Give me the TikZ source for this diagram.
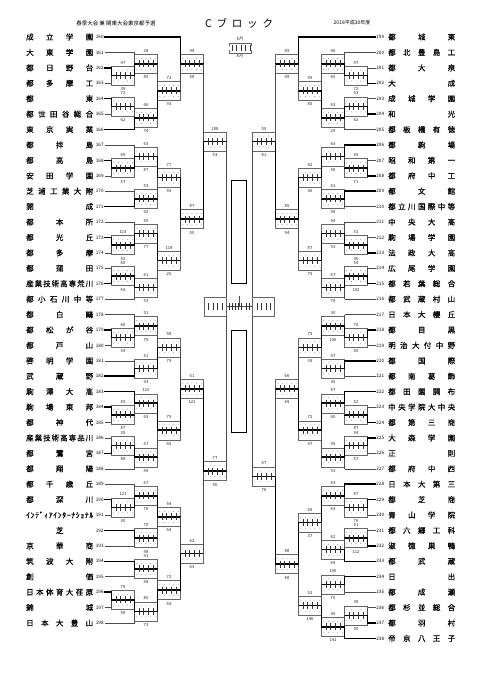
\documentclass[tikz,border=0pt]{standalone}
\usepackage{fontspec}
\setmainfont{Noto Sans CJK JP}
\newfontfamily\namefont{Noto Sans CJK JP}[FakeBold=0.6]
\usetikzlibrary{calc}
\def\spread#1{\spreadA#1\relax}
\def\spreadA#1{\ifx\relax#1\else #1\expandafter\spreadB\fi}
\def\spreadB#1{\ifx\relax#1\else\hfill #1\expandafter\spreadB\fi}
\tikzset{
 thinln/.style={draw=black!70, line width=0.5pt},
 boldln/.style={draw=black, line width=1.5pt, line cap=rect},
 frm/.style={draw=black!60, line width=0.4pt},
 tk/.style={draw=black!80, line width=0.5pt},
 dotc/.style={fill=black!45},
 lab/.style={font=\fontsize{4.2}{4.2}\selectfont, inner sep=0pt, text=black!85},
 num/.style={font=\fontsize{4.6}{5}\selectfont, inner sep=0pt, outer sep=0.9pt},
 nm/.style={font=\namefont\fontsize{7.5}{8}\selectfont, inner sep=0pt, anchor=west},
}
\newcommand\LTeam[5]{%
  \node[nm] (nm#1) at (26,#2) {\makebox[67pt]{\spread{#5}}};
  \node[num,anchor=east] (k#1) at (104.5,#2) {#1};
  \coordinate (e#1) at (#3,#2);
  \draw[#4] (k#1.east) -- (e#1);
}
\newcommand\RTeam[5]{%
  \node[nm] (nm#1) at (388,#2) {\makebox[67pt]{\spread{#5}}};
  \node[num,anchor=west] (k#1) at (375.5,#2) {#1};
  \coordinate (e#1) at (#3,#2);
  \draw[#4] (e#1) -- (k#1.west);
}
\newcommand\Mch[8]{%
  \coordinate (#1i) at ($(#3)!0.5!(#4)$);
  \coordinate (#1) at ($(#1i)+(#2,0)$);
  \draw[frm] ($(#1i)+(0,-9.5)$) rectangle ($(#1)+(0,9.5)$);
  \foreach \f in {0.1,0.3,0.5,0.7,0.9} {%
    \fill[dotc] ($(#1i)!\f!(#1)+(0,-5.5)$) circle[radius=0.45pt];
    \fill[dotc] ($(#1i)!\f!(#1)+(0,5.5)$) circle[radius=0.45pt];}
  \draw[#5] (#3) -- (#1i);
  \draw[#6] (#4) -- (#1i);
  \draw[boldln] (#1i) -- (#1);
  \foreach \f in {0.2,0.4,0.6,0.8} \draw[tk] ($(#1i)!\f!(#1)+(0,-3.5)$) -- ++(0,7);
  \node[lab] at ($(#1i)!0.5!(#1)+(0,-13)$) {#7};
  \node[lab] at ($(#1i)!0.5!(#1)+(0,13.5)$) {#8};
}
\begin{document}
\begin{tikzpicture}[x=1pt,y=-1pt]
\fill[white] (0,0) rectangle (481,680);
\useasboundingbox (0,0) rectangle (481,680);
% header
\node[font=\fontsize{5.5}{6}\selectfont, inner sep=0pt] (hdrA) at (116,23) {春季大会\ 兼\ 関東大会東京都予選};
\node[font=\fontsize{10.5}{11}\selectfont, inner sep=0pt] (hdrB) at (239,23) {\makebox[68pt]{C\hfill ブ\hfill ロ\hfill ッ\hfill ク}};
\node[font=\fontsize{5}{5}\selectfont, inner sep=0pt] (hdrC) at (352,23) {2018平成30年度};
% legend
\node[lab] (lgT) at (240,39.5) {8月};
\node[lab] (lgB) at (240,56) {8月};
\draw[frm] (229,46) -- (229,43) -- (251,43) -- (251,46);
\draw[frm] (229,50) -- (229,53) -- (251,53) -- (251,50);
\foreach \xx in {232,236.5,241,245.5,250} \draw[tk] (\xx,45) -- (\xx,51);
% left teams
\LTeam{160}{37}{180.5}{boldln}{成立学園}
\LTeam{161}{52.42}{134.5}{thinln}{大東学園}
\LTeam{162}{67.84}{111.5}{boldln}{都日野台}
\LTeam{163}{83.26}{111.5}{thinln}{都多摩工}
\LTeam{164}{98.68}{111.5}{boldln}{都東}
\LTeam{165}{114.10}{111.5}{thinln}{都世田谷総合}
\LTeam{166}{129.52}{134.5}{boldln}{東京実業}
\LTeam{167}{144.94}{134.5}{thinln}{都拝島}
\LTeam{168}{160.36}{111.5}{boldln}{都高島}
\LTeam{169}{175.78}{111.5}{thinln}{安田学園}
\LTeam{170}{191.20}{134.5}{thinln}{芝浦工業大附}
\LTeam{171}{206.62}{134.5}{boldln}{開成}
\LTeam{172}{222.04}{134.5}{thinln}{都本所}
\LTeam{173}{237.46}{111.5}{boldln}{都光丘}
\LTeam{174}{252.88}{111.5}{thinln}{都多摩}
\LTeam{175}{268.30}{111.5}{thinln}{都蒲田}
\LTeam{176}{283.72}{111.5}{boldln}{産業技術高専荒川}
\LTeam{177}{299.14}{134.5}{thinln}{都小石川中等}
\LTeam{178}{314.56}{134.5}{thinln}{都白鷗}
\LTeam{179}{329.98}{111.5}{boldln}{都松が谷}
\LTeam{180}{345.40}{111.5}{thinln}{都戸山}
\LTeam{181}{360.82}{134.5}{thinln}{啓明学園}
\LTeam{182}{376.24}{134.5}{boldln}{武蔵野}
\LTeam{183}{391.66}{134.5}{boldln}{駒澤大高}
\LTeam{184}{407.08}{111.5}{boldln}{駒場東邦}
\LTeam{185}{422.50}{111.5}{thinln}{都神代}
\LTeam{186}{437.92}{111.5}{thinln}{産業技術高専品川}
\LTeam{187}{453.34}{111.5}{boldln}{都鷺宮}
\LTeam{188}{468.76}{134.5}{thinln}{都翔陽}
\LTeam{189}{484.18}{134.5}{thinln}{都千歳丘}
\LTeam{190}{499.60}{111.5}{boldln}{都深川}
\LTeam{191}{515.02}{111.5}{thinln}{ｲﾝﾃﾞｨｱｲﾝﾀｰﾅｼｮﾅﾙ}
\LTeam{192}{530.44}{134.5}{boldln}{\hfill 芝\hfill}
\LTeam{193}{545.86}{134.5}{thinln}{京華商}
\LTeam{194}{561.28}{134.5}{boldln}{筑波大附}
\LTeam{195}{576.70}{134.5}{thinln}{創価}
\LTeam{196}{592.12}{111.5}{boldln}{日本体育大荏原}
\LTeam{197}{607.54}{111.5}{thinln}{錦城}
\LTeam{198}{622.96}{134.5}{thinln}{日本大豊山}
% right teams
\RTeam{199}{37}{298.5}{boldln}{都城東}
\RTeam{200}{52.42}{344.5}{thinln}{都北豊島工}
\RTeam{201}{67.84}{367.5}{thinln}{都大泉}
\RTeam{202}{83.26}{367.5}{boldln}{大成}
\RTeam{203}{98.68}{367.5}{thinln}{成城学園}
\RTeam{204}{114.10}{367.5}{boldln}{和光}
\RTeam{205}{129.52}{344.5}{thinln}{都板橋有徳}
\RTeam{206}{144.94}{344.5}{boldln}{都駒場}
\RTeam{207}{160.36}{367.5}{thinln}{昭和第一}
\RTeam{208}{175.78}{367.5}{boldln}{都府中工}
\RTeam{209}{191.20}{344.5}{boldln}{都文館}
\RTeam{210}{206.62}{344.5}{thinln}{都立川国際中等}
\RTeam{211}{222.04}{344.5}{thinln}{中央大高}
\RTeam{212}{237.46}{367.5}{thinln}{駒場学園}
\RTeam{213}{252.88}{367.5}{boldln}{法政大高}
\RTeam{214}{268.30}{367.5}{thinln}{広尾学園}
\RTeam{215}{283.72}{367.5}{boldln}{都若葉総合}
\RTeam{216}{299.14}{344.5}{thinln}{都武蔵村山}
\RTeam{217}{314.56}{344.5}{thinln}{日本大櫻丘}
\RTeam{218}{329.98}{367.5}{boldln}{都目黒}
\RTeam{219}{345.40}{367.5}{thinln}{明治大付中野}
\RTeam{220}{360.82}{344.5}{boldln}{都国際}
\RTeam{221}{376.24}{344.5}{thinln}{都南葛飾}
\RTeam{222}{391.66}{344.5}{boldln}{都田園調布}
\RTeam{223}{407.08}{367.5}{thinln}{中央学院大中央}
\RTeam{224}{422.50}{367.5}{boldln}{都第三商}
\RTeam{225}{437.92}{367.5}{boldln}{大森学園}
\RTeam{226}{453.34}{367.5}{thinln}{正則}
\RTeam{227}{468.76}{344.5}{thinln}{都府中西}
\RTeam{228}{484.18}{344.5}{boldln}{日本大第三}
\RTeam{229}{499.60}{367.5}{boldln}{都芝商}
\RTeam{230}{515.02}{367.5}{thinln}{青山学院}
\RTeam{231}{530.44}{367.5}{thinln}{都六郷工科}
\RTeam{232}{545.86}{367.5}{boldln}{淑徳巣鴨}
\RTeam{233}{561.28}{344.5}{boldln}{都武蔵}
\RTeam{234}{576.70}{344.5}{boldln}{日出}
\RTeam{235}{592.12}{344.5}{thinln}{都成瀬}
\RTeam{236}{607.54}{367.5}{thinln}{都杉並総合}
\RTeam{237}{622.96}{367.5}{boldln}{都羽村}
\RTeam{238}{638.38}{344.5}{boldln}{帝京八王子}
% left matches
\Mch{a1}{23}{e162}{e163}{boldln}{thinln}{97}{39}
\Mch{a2}{23}{e161}{a1}{thinln}{boldln}{28}{80}
\Mch{a3}{23}{e164}{e165}{boldln}{thinln}{72}{62}
\Mch{a4}{23}{a3}{e166}{thinln}{boldln}{66}{74}
\Mch{a5}{23}{a2}{a4}{thinln}{boldln}{72}{93}
\Mch{a6}{23}{e160}{a5}{boldln}{thinln}{94}{58}
\Mch{b1}{23}{e168}{e169}{boldln}{thinln}{69}{57}
\Mch{b2}{23}{e167}{b1}{thinln}{boldln}{63}{87}
\Mch{b3}{23}{e170}{e171}{thinln}{boldln}{53}{92}
\Mch{b4}{23}{b2}{b3}{boldln}{thinln}{77}{55}
\Mch{b5}{23}{e173}{e174}{boldln}{thinln}{113}{52}
\Mch{b6}{23}{e172}{b5}{thinln}{boldln}{50}{77}
\Mch{b7}{23}{e175}{e176}{thinln}{boldln}{60}{63}
\Mch{b8}{23}{b7}{e177}{boldln}{thinln}{61}{53}
\Mch{b9}{23}{b6}{b8}{boldln}{thinln}{119}{25}
\Mch{b10}{23}{b4}{b9}{boldln}{thinln}{87}{50}
\Mch{LA}{23}{a6}{b10}{thinln}{boldln}{108}{53}
\Mch{c1}{23}{e179}{e180}{boldln}{thinln}{66}{54}
\Mch{c2}{23}{e178}{c1}{thinln}{boldln}{51}{78}
\Mch{c3}{23}{e181}{e182}{thinln}{boldln}{51}{93}
\Mch{c4}{23}{c2}{c3}{thinln}{boldln}{58}{79}
\Mch{c5}{23}{e184}{e185}{boldln}{thinln}{83}{87}
\Mch{c6}{23}{e183}{c5}{boldln}{thinln}{110}{63}
\Mch{c7}{23}{e186}{e187}{thinln}{boldln}{35}{88}
\Mch{c8}{23}{c7}{e188}{boldln}{thinln}{67}{49}
\Mch{c9}{23}{c6}{c8}{boldln}{thinln}{79}{65}
\Mch{c10}{23}{c4}{c9}{thinln}{boldln}{51}{121}
\Mch{d1}{23}{e190}{e191}{boldln}{thinln}{121}{30}
\Mch{d2}{23}{e189}{d1}{thinln}{boldln}{67}{76}
\Mch{d3}{23}{e192}{e193}{boldln}{thinln}{70}{48}
\Mch{d4}{23}{d2}{d3}{boldln}{thinln}{54}{64}
\Mch{d5}{23}{e194}{e195}{boldln}{thinln}{91}{58}
\Mch{d6}{23}{e196}{e197}{boldln}{thinln}{75}{58}
\Mch{d7}{23}{d6}{e198}{boldln}{thinln}{80}{73}
\Mch{d8}{23}{d5}{d7}{thinln}{boldln}{72}{69}
\Mch{d9}{23}{d4}{d8}{thinln}{boldln}{62}{63}
\Mch{LB}{23}{c10}{d9}{boldln}{thinln}{77}{56}
% right matches
\Mch{p1}{-23}{e201}{e202}{thinln}{boldln}{47}{72}
\Mch{p2}{-23}{e200}{p1}{thinln}{boldln}{46}{65}
\Mch{p3}{-23}{e203}{e204}{thinln}{boldln}{53}{62}
\Mch{p4}{-23}{p3}{e205}{boldln}{thinln}{63}{29}
\Mch{p5}{-23}{p2}{p4}{thinln}{boldln}{59}{85}
\Mch{p6}{-23}{e199}{p5}{boldln}{thinln}{69}{49}
\Mch{q1}{-23}{e207}{e208}{thinln}{boldln}{59}{71}
\Mch{q2}{-23}{e206}{q1}{boldln}{thinln}{63}{58}
\Mch{q3}{-23}{e209}{e210}{boldln}{thinln}{61}{58}
\Mch{q4}{-23}{q2}{q3}{boldln}{thinln}{62}{36}
\Mch{q5}{-23}{e212}{e213}{thinln}{boldln}{51}{36}
\Mch{q6}{-23}{e211}{q5}{thinln}{boldln}{44}{53}
\Mch{q7}{-23}{e214}{e215}{thinln}{boldln}{54}{102}
\Mch{q8}{-23}{q7}{e216}{boldln}{thinln}{67}{78}
\Mch{q9}{-23}{q6}{q8}{boldln}{thinln}{87}{75}
\Mch{q10}{-23}{q4}{q9}{boldln}{thinln}{85}{94}
\Mch{RA}{-23}{p6}{q10}{thinln}{boldln}{55}{81}
\Mch{r1}{-23}{e218}{e219}{boldln}{thinln}{76}{60}
\Mch{r2}{-23}{e217}{r1}{thinln}{boldln}{30}{106}
\Mch{r3}{-23}{e220}{e221}{boldln}{thinln}{47}{35}
\Mch{r4}{-23}{r2}{r3}{boldln}{thinln}{75}{39}
\Mch{r5}{-23}{e223}{e224}{thinln}{boldln}{52}{87}
\Mch{r6}{-23}{e222}{r5}{boldln}{thinln}{87}{60}
\Mch{r7}{-23}{e225}{e226}{boldln}{thinln}{34}{57}
\Mch{r8}{-23}{r7}{e227}{boldln}{thinln}{95}{53}
\Mch{r9}{-23}{r6}{r8}{boldln}{thinln}{72}{47}
\Mch{r10}{-23}{r4}{r9}{thinln}{boldln}{66}{69}
\Mch{s1}{-23}{e229}{e230}{boldln}{thinln}{87}{76}
\Mch{s2}{-23}{e228}{s1}{boldln}{thinln}{63}{63}
\Mch{s3}{-23}{e231}{e232}{thinln}{boldln}{51}{112}
\Mch{s4}{-23}{s3}{e233}{thinln}{boldln}{62}{69}
\Mch{s5}{-23}{s2}{s4}{boldln}{thinln}{68}{37}
\Mch{s6}{-23}{e234}{e235}{boldln}{thinln}{100}{70}
\Mch{s7}{-23}{e236}{e237}{thinln}{boldln}{38}{50}
\Mch{s8}{-23}{s7}{e238}{thinln}{boldln}{45}{141}
\Mch{s9}{-23}{s6}{s8}{thinln}{boldln}{52}{146}
\Mch{s10}{-23}{s5}{s9}{boldln}{thinln}{88}{68}
\Mch{RB}{-23}{r10}{s10}{thinln}{boldln}{67}{76}
% center
\draw[thinln] (LA) -- (LB);
\draw[thinln] (RA) -- (RB);
\coordinate (LS) at ($(LA)!0.5!(LB)$);
\coordinate (RS) at (RA |- LS);
\draw[frm] ($(LS)+(-22,-9.5)$) rectangle ($(LS)+(0,9.5)$);
\draw[frm] ($(RS)+(0,-9.5)$) rectangle ($(RS)+(22,9.5)$);
\foreach \dx in {-18,-13.5,-9,-4.5} \draw[tk] ($(LS)+(\dx,-3.5)$) -- ++(0,7);
\foreach \dx in {4.5,9,13.5,18} \draw[tk] ($(RS)+(\dx,-3.5)$) -- ++(0,7);
\draw[thinln] (LS) -- (RS);
\foreach \dx in {3,6,9,12,15,20,23} \draw[tk] ($(LS)+(\dx,-3.5)$) -- ++(0,7);
\coordinate (FC) at ($(LS)!0.5!(RS)$);
\draw[thinln] (FC) -- ++(0,-10);
\draw[line width=0.9pt] (231.7,180.7) rectangle (246.7,283.3);
\draw[line width=0.9pt] (231.7,330) rectangle (246.7,432.7);
\end{tikzpicture}
\end{document}
